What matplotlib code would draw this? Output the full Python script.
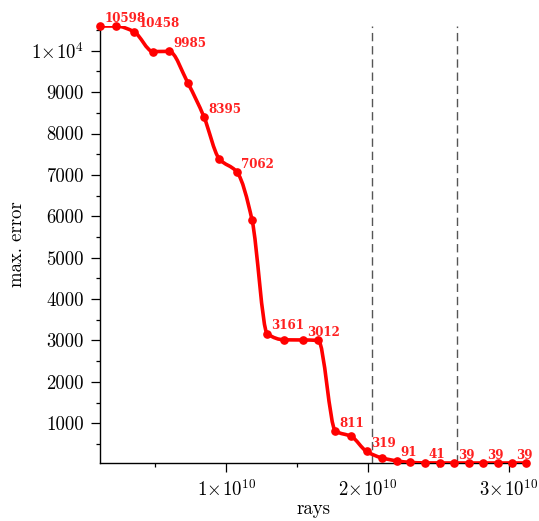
import numpy as np
import matplotlib
matplotlib.use("Agg")
import matplotlib.pyplot as plt
from matplotlib.path import Path
from matplotlib.patches import PathPatch
from matplotlib.ticker import FixedLocator, MultipleLocator, FuncFormatter

plt.rcParams["font.family"] = "serif"
plt.rcParams["font.serif"] = ["cmr10"]
plt.rcParams["mathtext.fontset"] = "cm"
plt.rcParams["axes.unicode_minus"] = False
plt.rcParams["axes.formatter.use_mathtext"] = True

# number of rays traced vs. maximum error
rays = [1.08e9, 2.22e9, 3.49e9, 4.83e9, 5.97e9, 7.31e9, 8.44e9, 9.50e9,
        10.78e9, 11.84e9, 12.91e9, 14.11e9, 15.46e9, 16.52e9, 17.73e9,
        18.86e9, 19.93e9, 20.99e9, 22.06e9, 22.98e9, 24.04e9, 25.11e9,
        26.10e9, 27.16e9, 28.16e9, 29.22e9, 30.21e9, 31.21e9]
max_error = [10598, 10598, 10458, 9980, 9985, 9210, 8395, 7395, 7062, 5900,
             3161, 3015, 3012, 3000, 811, 680, 319, 165, 91, 55, 41, 40,
             39, 39, 39, 39, 39, 39]
# every other point is annotated with its value
labelled = list(range(0, 28, 2))
markers_x = [2.035e10, 2.63e10]

fig = plt.figure(figsize=(5.39, 5.21), dpi=100)
ax = fig.add_axes([100 / 539, 1 - 463 / 521, 426 / 539, 437 / 521])

x = np.array(rays)
y = np.array(max_error, dtype=float)

# smooth, monotone curve through the points (Fritsch-Carlson tangents,
# drawn as cubic Bezier segments)
h = np.diff(x)
d = np.diff(y) / h
m = np.zeros_like(y)
m[0], m[-1] = d[0], d[-1]
for i in range(1, len(x) - 1):
    if d[i - 1] * d[i] > 0:
        w1 = 2 * h[i] + h[i - 1]
        w2 = h[i] + 2 * h[i - 1]
        m[i] = (w1 + w2) / (w1 / d[i - 1] + w2 / d[i])
verts = [(x[0], y[0])]
codes = [Path.MOVETO]
for i in range(len(x) - 1):
    verts += [(x[i] + h[i] / 3, y[i] + m[i] * h[i] / 3),
              (x[i + 1] - h[i] / 3, y[i + 1] - m[i + 1] * h[i] / 3),
              (x[i + 1], y[i + 1])]
    codes += [Path.CURVE4] * 3
curve = PathPatch(Path(verts, codes), facecolor="none", edgecolor="#ff0000",
                  lw=2.6, zorder=3, capstyle="round", joinstyle="round")
ax.add_patch(curve)
ax.plot(x, y, "o", color="#ff0000", ms=5.2, zorder=4, clip_on=False)

for xv in markers_x:
    ax.axvline(xv, color="#555555", lw=1.0, ls=(0, (6, 3.5)), zorder=2)

for i in labelled:
    ax.annotate(f"{max_error[i]}", (x[i], y[i]), xytext=(3, 3.2),
                textcoords="offset points", color="#ff2020", fontsize=8.6,
                family="DejaVu Serif", fontweight="bold",
                ha="left", va="baseline", zorder=5)

ax.set_xlim(x.min(), x.max())
ax.set_ylim(y.min(), y.max())

for s in ["top", "right"]:
    ax.spines[s].set_visible(False)
ax.spines["left"].set_linewidth(1.0)
ax.spines["bottom"].set_linewidth(1.0)

ax.xaxis.set_major_locator(FixedLocator([1e10, 2e10, 3e10]))
ax.xaxis.set_minor_locator(MultipleLocator(5e9))
ax.xaxis.set_major_formatter(FuncFormatter(
    lambda v, p: r"$%d\!\times\!10^{10}$" % round(v / 1e10)))
ax.yaxis.set_major_locator(FixedLocator(range(1000, 11000, 1000)))
ax.yaxis.set_minor_locator(MultipleLocator(500))
ax.yaxis.set_major_formatter(FuncFormatter(
    lambda v, p: r"$1\!\times\!10^{4}$" if v == 10000 else "%d" % v))

ax.tick_params(which="major", direction="out", length=6.5, width=0.9,
               labelsize=13.5, pad=5, top=False, right=False)
ax.tick_params(which="minor", direction="out", length=3.1, width=0.9,
               top=False, right=False)

ax.set_xlabel("rays", fontsize=13.5, va="center")
ax.set_ylabel("max. error", fontsize=13.5, va="center")
ax.xaxis.set_label_coords(0.5, (463 - 509) / 437)
ax.yaxis.set_label_coords((17 - 100) / 426, 0.5)

fig.savefig("out.png", dpi=100)
